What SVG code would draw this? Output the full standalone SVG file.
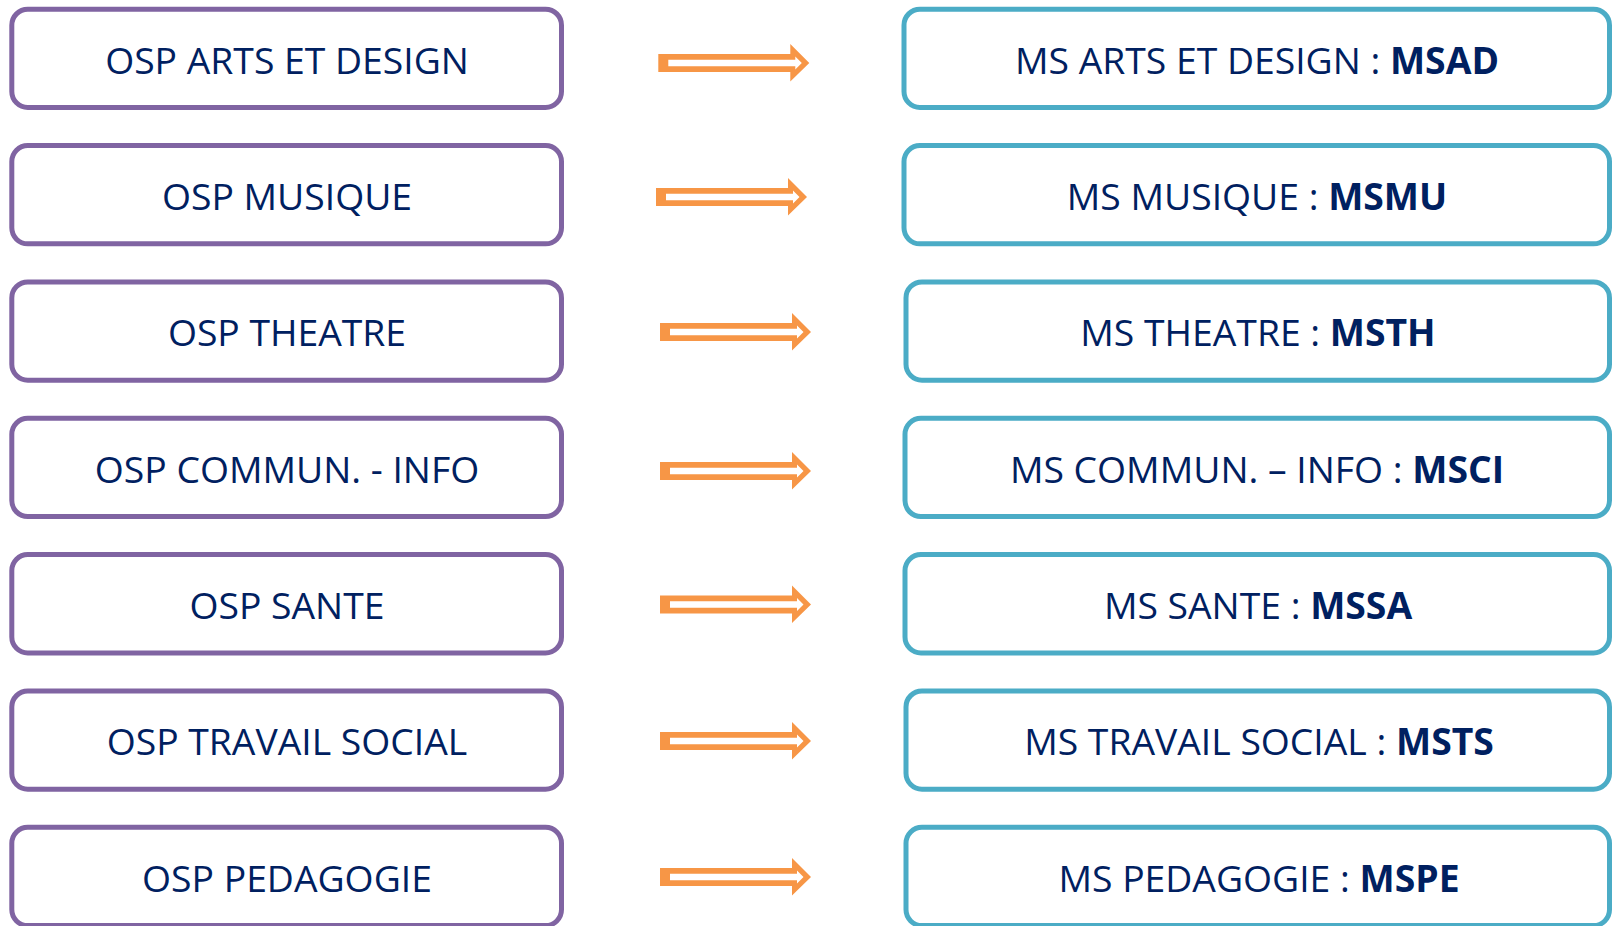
<svg xmlns="http://www.w3.org/2000/svg" xmlns:xlink="http://www.w3.org/1999/xlink" width="1612" height="926" viewBox="0 0 1612 926">
<style>
.bg{fill:#ffffff}
.osp{fill:#ffffff;stroke:#8064A2;stroke-width:5}
.ms{fill:#ffffff;stroke:#4BACC6;stroke-width:5}
.t{font-family:"Open Sans","Noto Sans","DejaVu Sans",sans-serif;font-size:37.3px;fill:#002060;text-anchor:middle}
.b{font-weight:bold}
.ao{fill:#F79646}
.ai{fill:#ffffff}
</style>
<defs>
<g id="arrow">
<polygon class="ao" points="0,-9 132,-9 132,-19 151,0 132,18.5 132,9 0,9"/>
<polygon class="ai" points="10,-3.3 137,-3.3 137,-6.5 143.5,0 137,6.5 137,3.3 10,3.3"/>
</g>
</defs>
<rect class="bg" x="0" y="0" width="1612" height="926"/>
<g id="osp-arts"><rect class="osp" x="11.8" y="9.2" width="549.7" height="98.3" rx="16"/><text class="t" x="287" y="73.5">OSP ARTS ET DESIGN</text></g>
<g id="osp-musique"><rect class="osp" x="11.8" y="145.55" width="549.7" height="98.3" rx="16"/><text class="t" x="287" y="209.85">OSP MUSIQUE</text></g>
<g id="osp-theatre"><rect class="osp" x="11.8" y="281.9" width="549.7" height="98.3" rx="16"/><text class="t" x="287" y="346.2">OSP THEATRE</text></g>
<g id="osp-commun"><rect class="osp" x="11.8" y="418.25" width="549.7" height="98.3" rx="16"/><text class="t" x="287" y="482.55">OSP COMMUN. - INFO</text></g>
<g id="osp-sante"><rect class="osp" x="11.8" y="554.6" width="549.7" height="98.3" rx="16"/><text class="t" x="287" y="618.9">OSP SANTE</text></g>
<g id="osp-travail"><rect class="osp" x="11.8" y="690.95" width="549.7" height="98.3" rx="16"/><text class="t" x="287" y="755.25">OSP TRAVAIL SOCIAL</text></g>
<g id="osp-pedagogie"><rect class="osp" x="11.8" y="827.3" width="549.7" height="98.3" rx="16"/><text class="t" x="287" y="891.6">OSP PEDAGOGIE</text></g>

<g id="ms-arts"><rect class="ms" x="904" y="9.2" width="705.5" height="98.3" rx="16"/><text class="t" x="1257" y="73.5">MS ARTS ET DESIGN : <tspan class="b">MSAD</tspan></text></g>
<g id="ms-musique"><rect class="ms" x="904" y="145.55" width="705.5" height="98.3" rx="16"/><text class="t" x="1257" y="209.85">MS MUSIQUE : <tspan class="b">MSMU</tspan></text></g>
<g id="ms-theatre"><rect class="ms" x="906" y="281.9" width="703.5" height="98.3" rx="16"/><text class="t" x="1258" y="346.2">MS THEATRE : <tspan class="b">MSTH</tspan></text></g>
<g id="ms-commun"><rect class="ms" x="905" y="418.25" width="704.5" height="98.3" rx="16"/><text class="t" x="1257" y="482.55">MS COMMUN. – INFO : <tspan class="b">MSCI</tspan></text></g>
<g id="ms-sante"><rect class="ms" x="905" y="554.6" width="704.5" height="98.3" rx="16"/><text class="t" x="1258" y="618.9">MS SANTE : <tspan class="b">MSSA</tspan></text></g>
<g id="ms-travail"><rect class="ms" x="906" y="690.95" width="703.5" height="98.3" rx="16"/><text class="t" x="1259" y="755.25">MS TRAVAIL SOCIAL : <tspan class="b">MSTS</tspan></text></g>
<g id="ms-pedagogie"><rect class="ms" x="906" y="827.3" width="703.5" height="98.3" rx="16"/><text class="t" x="1259" y="891.6">MS PEDAGOGIE : <tspan class="b">MSPE</tspan></text></g>

<g id="connectors">
<use xlink:href="#arrow" href="#arrow" transform="translate(658.3,63)"/>
<use xlink:href="#arrow" href="#arrow" transform="translate(656,197)"/>
<use xlink:href="#arrow" href="#arrow" transform="translate(660,332)"/>
<use xlink:href="#arrow" href="#arrow" transform="translate(660,471)"/>
<use xlink:href="#arrow" href="#arrow" transform="translate(660,604.5)"/>
<use xlink:href="#arrow" href="#arrow" transform="translate(660,741)"/>
<use xlink:href="#arrow" href="#arrow" transform="translate(660,877)"/>
</g>
</svg>
